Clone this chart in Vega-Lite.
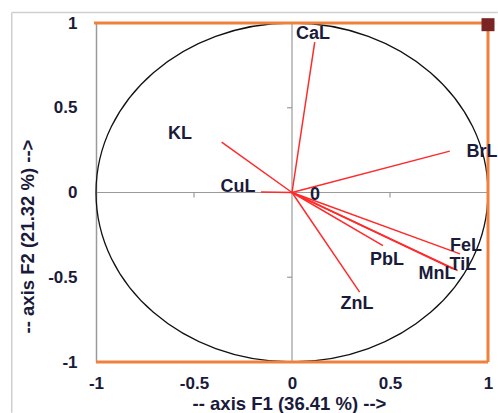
{
  "$schema": "https://vega.github.io/schema/vega-lite/v6.json",
  "width": 392,
  "height": 339,
  "autosize": {"type": "none"},
  "padding": {"left": 96, "top": 23, "right": 10, "bottom": 51},
  "background": "white",
  "config": {"view": {"stroke": null}, "font": "Liberation Sans"},
  "datasets": {
    "vectors": [
      {"name": "CaL", "x": 0.116, "y": 0.887, "lx": 0.107, "ly": 0.938},
      {"name": "BrL", "x": 0.805, "y": 0.244, "lx": 0.969, "ly": 0.236},
      {"name": "KL", "x": -0.359, "y": 0.297, "lx": -0.571, "ly": 0.348},
      {"name": "CuL", "x": -0.158, "y": 0.003, "lx": -0.276, "ly": 0.035},
      {"name": "FeL", "x": 0.857, "y": -0.362, "lx": 0.888, "ly": -0.313},
      {"name": "TiL", "x": 0.845, "y": -0.46, "lx": 0.872, "ly": -0.425},
      {"name": "MnL", "x": 0.82, "y": -0.45, "lx": 0.74, "ly": -0.478},
      {"name": "PbL", "x": 0.464, "y": -0.313, "lx": 0.485, "ly": -0.401},
      {"name": "ZnL", "x": 0.345, "y": -0.588, "lx": 0.332, "ly": -0.655}
    ],
    "orangeFrame": [
      {"x1": -1.01, "x2": 1, "y1": 1, "y2": 1},
      {"x1": 1, "x2": 1, "y1": 1, "y2": -1},
      {"x1": -1, "x2": 1, "y1": -1, "y2": -1}
    ],
    "outerFrame": [
      {"x1": -1.43, "x2": 1.05, "y1": 1.062, "y2": 1.062},
      {"x1": -1.43, "x2": -1.43, "y1": 1.062, "y2": -1.3}
    ],
    "zeroLines": [
      {"x1": -1, "x2": 1, "y1": 0, "y2": 0},
      {"x1": 0, "x2": 0, "y1": 1, "y2": -1},
      {"x1": -0.5, "x2": -0.5, "y1": 0, "y2": -0.03},
      {"x1": 0.5, "x2": 0.5, "y1": 0, "y2": -0.03},
      {"x1": 0, "x2": -0.025, "y1": 0.5, "y2": 0.5},
      {"x1": 0, "x2": -0.025, "y1": -0.5, "y2": -0.5}
    ]
  },
  "layer": [
    {
      "data": {"name": "zeroLines"},
      "mark": {"type": "rule", "color": "#9a9a9a", "strokeWidth": 1.2},
      "encoding": {
        "x": {"field": "x1", "type": "quantitative", "scale": {"domain": [-1, 1], "nice": false, "zero": false},
          "axis": {
            "values": [-1, -0.5, 0, 0.5, 1],
            "labelExpr": "'' + datum.value",
            "ticks": false, "domain": false, "grid": false,
            "labelFont": "Liberation Sans", "labelFontWeight": "bold", "labelFontSize": 17, "labelColor": "#1a1a3a",
            "labelPadding": 13, "labelFlush": false, "labelOverlap": false,
            "title": "-- axis F1 (36.41 %) -->",
            "titleFont": "Liberation Sans", "titleFontWeight": "bold", "titleFontSize": 18.5, "titleColor": "#1a1a3a",
            "titleX": 193, "titleY": 47, "titleBaseline": "alphabetic"
          }},
        "x2": {"field": "x2"},
        "y": {"field": "y1", "type": "quantitative", "scale": {"domain": [-1, 1], "nice": false, "zero": false},
          "axis": {
            "values": [-1, -0.5, 0, 0.5, 1],
            "labelExpr": "'' + datum.value",
            "ticks": false, "domain": true, "domainColor": "#9a9a9a", "domainWidth": 1.5, "grid": false,
            "labelFont": "Liberation Sans", "labelFontWeight": "bold", "labelFontSize": 17, "labelColor": "#1a1a3a",
            "labelPadding": 19, "labelFlush": false, "labelOverlap": false,
            "title": "-- axis F2 (21.32 %) -->",
            "titleFont": "Liberation Sans", "titleFontWeight": "bold", "titleFontSize": 18.5, "titleColor": "#1a1a3a",
            "titleX": -69, "titleY": 213, "titleBaseline": "middle", "titleAngle": -90
          }},
        "y2": {"field": "y2"}
      }
    },
    {
      "data": {"name": "outerFrame"},
      "mark": {"type": "rule", "color": "#cfcfcf", "strokeWidth": 1.5},
      "encoding": {
        "x": {"field": "x1", "type": "quantitative", "scale": {"domain": [-1, 1], "nice": false, "zero": false}},
        "x2": {"field": "x2"},
        "y": {"field": "y1", "type": "quantitative", "scale": {"domain": [-1, 1], "nice": false, "zero": false}},
        "y2": {"field": "y2"}
      }
    },
    {
      "data": {"values": [{"cx": 0, "cy": 0}]},
      "mark": {
        "type": "point",
        "shape": "M1,0C1,0.4776 0.5523,0.8648 0,0.8648C-0.5523,0.8648 -1,0.4776 -1,0C-1,-0.4776 -0.5523,-0.8648 0,-0.8648C0.5523,-0.8648 1,-0.4776 1,0Z",
        "size": 153664,
        "filled": false,
        "stroke": "#111111",
        "strokeWidth": 1.3,
        "opacity": 1
      },
      "encoding": {
        "x": {"field": "cx", "type": "quantitative", "scale": {"domain": [-1, 1], "nice": false, "zero": false}},
        "y": {"field": "cy", "type": "quantitative", "scale": {"domain": [-1, 1], "nice": false, "zero": false}}
      }
    },
    {
      "data": {"name": "vectors"},
      "mark": {"type": "rule", "color": "#ff2a2a", "strokeWidth": 1.5},
      "encoding": {
        "x": {"field": "x", "type": "quantitative", "scale": {"domain": [-1, 1], "nice": false, "zero": false}},
        "x2": {"datum": 0},
        "y": {"field": "y", "type": "quantitative", "scale": {"domain": [-1, 1], "nice": false, "zero": false}},
        "y2": {"datum": 0}
      }
    },
    {
      "data": {"name": "orangeFrame"},
      "mark": {"type": "rule", "color": "#f0813a", "strokeWidth": 3},
      "encoding": {
        "x": {"field": "x1", "type": "quantitative", "scale": {"domain": [-1, 1], "nice": false, "zero": false}},
        "x2": {"field": "x2"},
        "y": {"field": "y1", "type": "quantitative", "scale": {"domain": [-1, 1], "nice": false, "zero": false}},
        "y2": {"field": "y2"}
      }
    },
    {
      "data": {"name": "vectors"},
      "mark": {"type": "text", "font": "Liberation Sans", "fontWeight": "bold", "fontSize": 18, "color": "#1a1a3a", "align": "center", "baseline": "middle"},
      "encoding": {
        "x": {"field": "lx", "type": "quantitative", "scale": {"domain": [-1, 1], "nice": false, "zero": false}},
        "y": {"field": "ly", "type": "quantitative", "scale": {"domain": [-1, 1], "nice": false, "zero": false}},
        "text": {"field": "name"}
      }
    },
    {
      "data": {"values": [{"px": 0.117, "py": -0.012, "t": "0"}]},
      "mark": {"type": "text", "font": "Liberation Sans", "fontWeight": "bold", "fontSize": 18, "color": "#1a1a3a", "align": "center", "baseline": "middle"},
      "encoding": {
        "x": {"field": "px", "type": "quantitative", "scale": {"domain": [-1, 1], "nice": false, "zero": false}},
        "y": {"field": "py", "type": "quantitative", "scale": {"domain": [-1, 1], "nice": false, "zero": false}},
        "text": {"field": "t"}
      }
    },
    {
      "data": {"values": [{"sx": 1, "sy": 0.99}]},
      "mark": {"type": "square", "color": "#7b2424", "size": 169, "opacity": 1},
      "encoding": {
        "x": {"field": "sx", "type": "quantitative", "scale": {"domain": [-1, 1], "nice": false, "zero": false}},
        "y": {"field": "sy", "type": "quantitative", "scale": {"domain": [-1, 1], "nice": false, "zero": false}}
      }
    }
  ]
}
